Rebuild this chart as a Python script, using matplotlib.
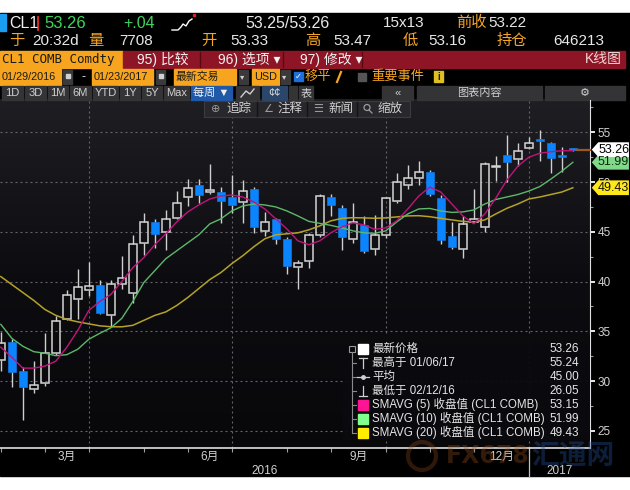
import numpy as np
import matplotlib.pyplot as plt
import matplotlib.transforms as mtransforms
from matplotlib.patches import Rectangle, Polygon, Circle
from matplotlib.colors import LinearSegmentedColormap

plt.rcParams['font.family'] = ['Liberation Sans', 'Noto Sans CJK SC', 'DejaVu Sans']

# CL1 COMB Comdty, weekly bars 01/29/2016 - 01/23/2017
opens = [32.1, 33.9, 31.0, 29.2, 29.8, 32.8, 36.2, 38.25, 39.15, 39.65,
         36.65, 39.8, 38.85, 43.85, 46.0, 45.0, 46.35, 48.55, 49.7, 48.97,
         49.05, 48.45, 47.95, 49.3, 45.1, 46.25, 44.25, 41.45, 42.05, 44.7,
         48.55, 47.35, 44.25, 45.7, 43.3, 44.7, 48.1, 49.7, 50.4, 51.05,
         48.35, 44.6, 43.3, 46.02, 45.45, 51.5, 52.7, 52.3, 53.45, 54.33,
         53.9, 52.72, 53.33]
highs = [34.9, 34.2, 31.4, 32.05, 34.8, 36.5, 39.15, 41.3, 42.0, 40.2,
         40.15, 42.6, 44.7, 46.9, 46.25, 47.2, 49.1, 50.3, 50.3, 51.8,
         49.5, 50.7, 50.2, 49.5, 47.0, 46.4, 44.5, 42.2, 44.9, 48.85,
         48.8, 47.7, 47.9, 46.6, 46.7, 48.5, 50.9, 51.7, 52.1, 51.2,
         48.7, 46.0, 46.6, 49.35, 52.05, 52.6, 54.7, 53.9, 54.5, 55.24,
         54.0, 53.5, 53.47]
lows = [31.0, 29.4, 26.05, 28.8, 29.5, 32.6, 36.1, 36.2, 38.55, 36.7,
        35.45, 39.3, 37.8, 42.7, 43.35, 43.2, 46.25, 47.6, 47.9, 48.85,
        45.9, 46.85, 45.9, 44.9, 44.6, 43.75, 40.75, 39.3, 41.35, 44.45,
        46.6, 43.2, 43.9, 42.9, 42.7, 44.35, 47.9, 49.3, 49.7, 48.6,
        43.8, 43.25, 42.35, 45.95, 45.0, 50.15, 50.05, 51.6, 53.3, 52.1,
        50.9, 51.0, 53.16]
closes = [33.8, 30.9, 29.4, 29.65, 32.8, 36.0, 38.6, 39.5, 39.55, 36.8,
          39.8, 40.4, 43.8, 46.0, 44.8, 46.25, 47.85, 49.4, 48.7, 49.2,
          48.05, 47.7, 49.1, 45.45, 46.0, 44.25, 41.6, 41.9, 44.65, 48.6,
          47.7, 44.5, 46.0, 43.1, 44.65, 48.4, 50.0, 50.45, 51.0, 48.8,
          44.2, 43.45, 45.75, 46.25, 51.8, 51.6, 52.0, 53.15, 53.9, 54.13,
          52.45, 52.55, 53.26]

sma5 = [33.4, 32.4, 31.3, 31.3, 31.5, 32.0, 33.4, 35.1, 37.1, 38.0,
        38.7, 40.0, 41.4, 42.4, 43.7, 44.8, 46.0, 47.0, 47.7, 48.3,
        48.6, 48.7, 48.5, 48.0, 47.3, 46.3, 45.3, 44.1, 43.7, 44.1,
        44.9, 45.5, 45.9, 45.7, 45.25, 45.4, 46.1, 47.3, 48.6, 49.5,
        49.0, 47.8, 46.6, 45.8, 46.8, 48.4, 50.2, 51.6, 52.5, 52.9,
        53.05, 53.15, 53.15]
sma10 = [35.7, 34.3, 33.5, 32.95, 32.8, 32.55, 32.65, 33.2, 34.2, 34.8,
         35.35, 36.3, 38.0, 39.9, 41.1, 42.3, 43.1, 43.9, 44.7, 45.8,
         46.3, 47.1, 47.6, 47.8, 47.7, 47.5, 47.1, 46.6, 46.05, 45.85,
         45.65, 45.4, 45.1, 44.9, 44.85, 45.1, 46.0, 46.8, 47.3, 47.35,
         47.1, 46.95, 47.0, 47.2, 47.8, 48.25, 48.5, 48.75, 49.1, 49.55,
         50.3, 51.1, 51.99]
sma20 = [40.5, 39.7, 38.9, 38.1, 37.2, 36.6, 36.2, 35.95, 35.75, 35.55,
         35.46, 35.45, 35.6, 36.1, 36.6, 36.95, 37.6, 38.4, 39.3, 40.2,
         40.9, 41.8, 42.6, 43.5, 44.3, 44.7, 44.8, 44.9, 45.2, 45.6,
         46.1, 46.35, 46.42, 46.4, 46.36, 46.4, 46.5, 46.6, 46.62, 46.52,
         46.35, 46.2, 46.05, 45.98, 46.2, 46.8, 47.36, 47.8, 48.3, 48.5,
         48.75, 49.0, 49.43]

# bar index of the last week of each month (tick marks), quarter boundaries
month_ticks = [0, 4, 8, 13, 17, 21, 26, 30, 35, 39, 43, 48]
month_names = ['2月', '3月', '4月', '5月', '6月', '7月', '8月', '9月', '10月', '11月', '12月', '1月']
quarter_lines = [8, 21, 35, 48]
years = ['2016', '2017']

legend_labels = ['最新价格', '最高于 01/06/17', '平均', '最低于 02/12/16',
                 'SMAVG (5) 收盘值 (CL1 COMB)', 'SMAVG (10) 收盘值 (CL1 COMB)',
                 'SMAVG (20) 收盘值 (CL1 COMB)']
legend_values = ['53.26', '55.24', '45.00', '26.05', '53.15', '51.99', '49.43']

ORANGE = '#f5a623'
BOXOR = '#f7a51f'
CJK = ['Liberation Sans', 'Noto Sans CJK SC', 'DejaVu Sans']
MONO = ['DejaVu Sans Mono', 'Noto Sans CJK SC']

n = len(closes)
idx = np.arange(n)
xmin, xmax = -0.073, 53.56
ymin, ymax = 23.27, 58.25

fig = plt.figure(figsize=(6.3, 4.9), dpi=100, facecolor='white')

# ---------- background / header (pixel coords) ----------
bg = fig.add_axes([0, 0, 1, 1], zorder=-1)
bg.axis('off')
bg.add_patch(Rectangle((0, 13), 630, 463, color='black', zorder=0))
grad = np.linspace(0, 1, 256).reshape(-1, 1)
cmap = LinearSegmentedColormap.from_list('g', ['#1e1e23', '#0d0d11', '#08080b'])
bg.imshow(grad, extent=(0, 590, 448, 100), cmap=cmap, aspect='auto', zorder=1)
bg.set_xlim(0, 630)
bg.set_ylim(490, 0)


def t(x, y, s, c='#e8e8e8', fs=10.5, ha='left', fam=None, ax=bg, **kw):
    ax.text(x, y, s, color=c, fontsize=fs, ha=ha, va='center',
            family=fam or CJK, zorder=5, **kw)


# row 1
bg.add_patch(Rectangle((0, 14), 6, 17, color='#1a9ef2', zorder=2))
t(9, 23, 'CL1', '#f0f0f0', 11.5)
bg.plot([38, 38], [17, 30], color='#e0302a', lw=1.3, zorder=3)
t(44, 23, '53.26', '#3ed45c', 12)
t(123, 23, '+.04', '#3ed45c', 11.5)
bg.plot([172, 178, 181, 183, 186, 189, 192], [30, 30, 27, 24, 26, 21, 19], color='white', lw=1, zorder=3)
bg.plot([194], [15], 's', color='#e02020', ms=1.5, zorder=3)
t(245, 23, '53.25/53.26', '#e8e8e8', 11.5)
t(383, 23, '15x13', '#e8e8e8', 11)
t(456, 23, '前收', ORANGE, 11)
t(488, 23, '53.22', '#e8e8e8', 11)

# row 2
for x, s, c in [(9, '于', ORANGE), (32, '20:32d', '#e8e8e8'), (88, '量', ORANGE),
                (119, '7708', '#e8e8e8'), (201, '开', ORANGE), (230, '53.33', '#e8e8e8'),
                (305, '高', ORANGE), (333, '53.47', '#e8e8e8'), (403, '低', ORANGE),
                (428, '53.16', '#e8e8e8'), (497, '持仓', ORANGE), (553, '646213', '#e8e8e8')]:
    t(x, 41, s, c, 11)

# row 3
bg.add_patch(Rectangle((0, 51), 123, 17, color=BOXOR, zorder=2))
t(2, 59.5, 'CL1 COMB Comdty', '#1a1a1a', 9, fam=MONO)
bg.add_patch(Rectangle((123, 51), 502, 17, color='#8e1526', zorder=2))
for x in [200, 283, 362]:
    bg.plot([x, x], [52, 67], color='#5a0812', lw=1, zorder=3)
t(137, 59.5, '95) 比较', '#f2f2f2', 10)
t(218, 59.5, '96) 选项 ▾', '#f2f2f2', 10)
t(300, 59.5, '97) 修改 ▾', '#f2f2f2', 10)
t(622, 59.5, 'K线图', '#f0d8d8', 10, ha='right')

# row 4
for x0, w, s in [(0, 61, '01/29/2016'), (92, 61, '01/23/2017'), (174, 62, '最新交易'), (252, 27, 'USD')]:
    bg.add_patch(Rectangle((x0, 69), w, 16, color=BOXOR, zorder=2))
    t(x0 + 2, 77, s, '#1a1a1a', 7.8)
for x0 in [63, 156, 239, 281]:
    bg.add_patch(Rectangle((x0, 70), 9, 14, color='#3a3a3c', zorder=2))
for x0 in [65, 158]:
    bg.add_patch(Rectangle((x0 + 0.5, 74), 4, 4, color='#d0d0d0', zorder=3))
t(240, 77, '▾', '#d0d0d0', 6, fam=['DejaVu Sans'])
t(282, 77, '▾', '#d0d0d0', 6, fam=['DejaVu Sans'])
t(82, 77, '-', '#e8e8e8', 9)
bg.add_patch(Rectangle((294, 72), 9, 9, color='#1e6fd9', zorder=2))
t(295, 76.5, '✓', 'white', 6, fam=['DejaVu Sans'])
t(305, 77, '移平', ORANGE, 9.5)
bg.plot([337, 341], [82, 72], color=ORANGE, lw=1.6, zorder=3)
bg.add_patch(Rectangle((358, 73), 8, 8, color='#555558', zorder=2))
t(371, 77, '重要事件', ORANGE, 9.5)
bg.add_patch(Rectangle((434, 71), 9, 11, color='#e0c020', zorder=2))
t(438.5, 76.5, 'i', '#202020', 7, ha='center', weight='bold')

# row 5
for x0, x1, s in [(2, 23, '1D'), (25, 46, '3D'), (48, 68, '1M'), (70, 91, '6M'),
                  (93, 118, 'YTD'), (120, 140, '1Y'), (142, 162, '5Y'), (164, 189, 'Max'),
                  (236, 259, ''), (289, 297, ''), (299, 313, '表'), (382, 413, '«'),
                  (417, 542, '图表内容'), (545, 625, '⚙')]:
    bg.add_patch(Rectangle((x0, 86), x1 - x0, 14, color='#343437', zorder=2))
    if s:
        t((x0 + x1) / 2, 93, s, '#d0d0d0', 8, ha='center')
bg.add_patch(Rectangle((191, 86), 41, 14, color='#2059a8', zorder=2))
t(211, 93, '每周 ▼', '#f0f0f0', 8, ha='center')
bg.add_patch(Rectangle((262, 86), 25, 14, color='#2c4669', zorder=2))
t(274.5, 93, '¢¢', '#d8d8d8', 8, ha='center')
bg.plot([241, 246, 250, 254], [97, 91, 94, 89], color='#d0d0d0', lw=1, zorder=3)

# ---------- main chart ----------
ax = fig.add_axes([0, 42 / 490, 590 / 630, 348 / 490])
ax.set_facecolor('none')

w = 0.78
for i in range(n):
    o, h, l, c = opens[i], highs[i], lows[i], closes[i]
    top, bot = max(o, c), min(o, c)
    if c >= o:
        ax.vlines(i, top, h, color='#cfcfcf', lw=1.0, zorder=3)
        ax.vlines(i, l, bot, color='#cfcfcf', lw=1.0, zorder=3)
        ax.add_patch(Rectangle((i - w / 2, bot), w, max(top - bot, 0.06), facecolor='none',
                               edgecolor='#d4d4d4', lw=1.1, zorder=3))
    else:
        ax.vlines(i, l, h, color='#cfcfcf', lw=1.0, zorder=2)
        ax.add_patch(Rectangle((i - w / 2, bot), w, max(top - bot, 0.12), facecolor='#0a84ff',
                               edgecolor='#1575dc', lw=0.5, zorder=3))

ax.plot(idx, sma20, color='#b4a326', lw=1.1, zorder=4)
ax.plot(idx, sma10, color='#5cb86a', lw=1.0, zorder=4)
ax.plot(idx, sma5, color='#c0147c', lw=1.0, zorder=4)
ax.plot([n - 1 + 0.35, xmax], [closes[-1], closes[-1]], color='#9a5a1e', lw=1.6, zorder=4, clip_on=False)

# grid
dash = (0, (1.8, 2.7))
for v in range(25, 56, 5):
    ax.axhline(v, color='#66666a', lw=0.8, ls=dash, zorder=1)
for q in quarter_lines:
    ax.axvline(q, color='#66666a', lw=0.8, ls=dash, zorder=1)

ax.set_xlim(xmin, xmax)
ax.set_ylim(ymin, ymax)

for s in ['left', 'top']:
    ax.spines[s].set_visible(False)
ax.spines['right'].set_color('#e0e0e0')
ax.spines['bottom'].set_color('#e0e0e0')
ax.spines['bottom'].set_linewidth(1.2)
ax.yaxis.tick_right()
ax.set_yticks(range(25, 56, 5))
ax.set_yticks(np.arange(27.5, 58, 5), minor=True)
ax.tick_params(axis='y', which='major', direction='out', length=3.5, width=1.4,
               color='#e8e8e8', labelcolor='#d2d2d2', labelsize=8.5, pad=2)
ax.tick_params(axis='y', which='minor', direction='out', length=2.5, width=0.8, color='#9a9a9a')
ax.set_xticks(month_ticks)
ax.tick_params(axis='x', direction='out', length=3, width=0.8, color='#a0a0a0', labelbottom=False)

bt = mtransforms.blended_transform_factory(ax.transData, ax.transAxes)
edges = month_ticks + [xmax]
for k, name in enumerate(month_names):
    if name in ('3月', '6月', '9月', '12月'):
        ax.text((edges[k] + edges[k + 1]) / 2, -0.025, name, transform=bt, ha='center', va='center',
                color='#d0d0d0', fontsize=8.5, family=CJK, zorder=8)
ax.text((edges[0] + 48) / 2, -0.066, years[0], transform=bt, ha='center', va='center',
        color='#d0d0d0', fontsize=8.5)
ax.text((48 + xmax) / 2, -0.066, years[1], transform=bt, ha='center', va='center',
        color='#d0d0d0', fontsize=8.5)
ax.plot([48, 48], [0, -0.083], transform=bt, color='#c0c0c0', lw=0.9, clip_on=False)

# price tags on the right axis
bty = mtransforms.blended_transform_factory(ax.transAxes, ax.transData)
for val, fc, tc in [(sma20[-1], '#ffe81a', '#111111'), (sma10[-1], '#80d98a', '#0a2a0a'),
                    (closes[-1], '#ffffff', '#000000')]:
    hh = 0.74
    ax.add_patch(Polygon([(1.003, val), (1.014, val + hh), (1.066, val + hh),
                          (1.066, val - hh), (1.014, val - hh)], closed=True, transform=bty,
                         facecolor=fc, edgecolor='none', clip_on=False, zorder=6))
    ax.text(1.040, val, f'{val:.2f}', transform=bty, ha='center', va='center',
            fontsize=9, color=tc, clip_on=False, zorder=7)

# ---------- overlays (pixel coords) ----------
fg = fig.add_axes([0, 0, 1, 1], zorder=5)
fg.axis('off')
fg.set_xlim(0, 630)
fg.set_ylim(490, 0)

# toolbar inside chart
fg.add_patch(Rectangle((204, 101), 206, 16, facecolor='#27272c', edgecolor='#3c3c40', lw=0.8))
for x in [257, 307, 357]:
    fg.plot([x, x], [102, 116], color='#141416', lw=1)
for x, icon, s in [(211, '⊕', '追踪'), (263, '∠', '注释'), (313, '☰', '新闻')]:
    t(x, 109, icon, '#9a9a9a', 8, fam=['DejaVu Sans'], ax=fg)
    t(x + 15, 109, s, '#d0d0d0', 9, ax=fg)
fg.add_patch(Circle((367, 107.5), 3, fill=False, edgecolor='#9a9a9a', lw=0.9))
fg.plot([369, 372], [110, 113], color='#9a9a9a', lw=0.9)
t(378, 109, '缩放', '#d0d0d0', 9, ax=fg)

# watermark (behind axis labels)
fg.add_patch(Circle((422, 456), 14, fill=False, edgecolor='#a0501e', lw=3, alpha=0.3, zorder=0))
fg.text(446, 456, 'FX678', color='#a0521e', fontsize=17, fontweight='bold', ha='left',
        va='center', alpha=0.33, family=['DejaVu Sans'], zorder=0)
fg.text(531, 457, '汇通网', color='#24509a', fontsize=20, fontweight='bold', ha='left',
        va='center', alpha=0.38, family=['Noto Sans CJK SC'], zorder=0)

# legend box
fg.add_patch(Rectangle((343, 335), 247, 105, facecolor='#0b0b0f', edgecolor='none', alpha=0.95))
rows = [349.3 + 13.9 * k for k in range(len(legend_labels))]
fg.plot([352, 352], [352, rows[-1]], color='#8a8a8a', lw=0.8)
fg.add_patch(Rectangle((349, 346), 6, 6, fill=False, edgecolor='#9a9a9a', lw=0.8))
for y in rows[1:]:
    fg.plot([352, 356], [y, y], color='#8a8a8a', lw=0.8)
icon_cols = ['#ffffff', None, None, None, '#ff1493', '#80ff8c', '#ffee00']
for k, (lab, val) in enumerate(zip(legend_labels, legend_values)):
    y = rows[k]
    if icon_cols[k]:
        fg.add_patch(Rectangle((358, y - 5), 10, 10, color=icon_cols[k]))
    elif k == 1:
        fg.plot([363, 363], [y - 5, y + 5], color='#cfcfcf', lw=0.9)
        fg.plot([359, 367], [y - 5, y - 5], color='#cfcfcf', lw=0.9)
    elif k == 2:
        fg.plot([357, 369], [y, y], color='#cfcfcf', lw=0.9)
        fg.plot([363], [y], 'o', color='#cfcfcf', ms=2.5)
    else:
        fg.plot([363, 363], [y - 5, y + 5], color='#cfcfcf', lw=0.9)
        fg.plot([359, 367], [y + 5, y + 5], color='#cfcfcf', lw=0.9)
    t(372, y, lab, '#e6e6e6', 8.3, ax=fg)
    t(579, y, val, '#e6e6e6', 8.5, ha='right', ax=fg)

fig.savefig('out.png', dpi=100, facecolor='white')
